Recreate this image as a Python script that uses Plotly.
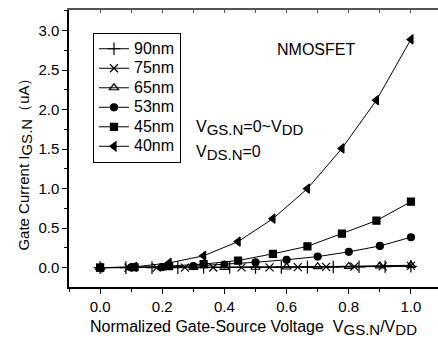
import plotly.graph_objects as go

# ---- data ----
x_90 = [0, 0.083, 0.167, 0.25, 0.333, 0.417, 0.5, 0.583, 0.667, 0.75, 0.833, 0.917, 1.0]
y_90 = [0, 0, 0, 0, 0.001, 0.002, 0.003, 0.004, 0.006, 0.008, 0.011, 0.014, 0.018]
x_75 = [0, 0.091, 0.182, 0.273, 0.364, 0.455, 0.545, 0.636, 0.727, 0.818, 0.909, 1.0]
y_75 = [0, 0, 0, 0.001, 0.002, 0.003, 0.004, 0.006, 0.009, 0.012, 0.016, 0.022]
x_65 = [0, 0.1, 0.2, 0.3, 0.4, 0.5, 0.6, 0.7, 0.8, 0.9, 1.0]
y_65 = [0, 0, 0.001, 0.002, 0.003, 0.005, 0.008, 0.012, 0.016, 0.022, 0.03]
x_53 = [0, 0.1, 0.2, 0.3, 0.4, 0.5, 0.6, 0.7, 0.8, 0.9, 1.0]
y_53 = [0, 0.003, 0.008, 0.02, 0.04, 0.068, 0.1, 0.14, 0.2, 0.275, 0.385]
x_45 = [0, 0.111, 0.222, 0.333, 0.444, 0.556, 0.667, 0.778, 0.889, 1.0]
y_45 = [0, 0.005, 0.02, 0.045, 0.09, 0.175, 0.27, 0.43, 0.595, 0.835]
x_40 = [0, 0.111, 0.222, 0.333, 0.444, 0.556, 0.667, 0.778, 0.889, 1.0]
y_40 = [0, 0.01, 0.06, 0.15, 0.33, 0.62, 1.0, 1.51, 2.12, 2.89]

names = ["90nm", "75nm", "65nm", "53nm", "45nm", "40nm"]
xs = [x_90, x_75, x_65, x_53, x_45, x_40]
ys = [y_90, y_75, y_65, y_53, y_45, y_40]
symbols = ["cross-thin", "x-thin", "triangle-up-open", "circle", "square", "triangle-left"]
sizes = [9, 8, 8, 7, 7, 8]

x_ticks = [0.0, 0.2, 0.4, 0.6, 0.8, 1.0]
y_ticks = [0.0, 0.5, 1.0, 1.5, 2.0, 2.5, 3.0]

FONT = "Liberation Sans, Arial, sans-serif"


def sub(t, size=14):
    return "<sub><span style='font-size:%dpx'>%s</span></sub>" % (size, t)


fig = go.Figure()
for n, x, y, s, sz in zip(names, xs, ys, symbols, sizes):
    fig.add_trace(go.Scatter(
        x=x, y=y, name="<span style='font-size:16px'>%s</span>" % n,
        mode="lines+markers",
        line=dict(color="black", width=1),
        marker=dict(symbol=s, size=sz, color="black",
                    line=dict(color="black", width=1.2)),
    ))

# dummy trace for top-axis inward ticks
fig.add_trace(go.Scatter(x=[None], y=[None], xaxis="x2", showlegend=False))

fig.update_layout(
    width=438, height=340,
    margin=dict(l=69, r=0, t=10, b=53),
    paper_bgcolor="white", plot_bgcolor="white",
    font=dict(family=FONT, size=15, color="black"),
    showlegend=True,
    legend=dict(
        x=0.065, y=0.917, xanchor="left", yanchor="top",
        bordercolor="black", borderwidth=1, bgcolor="white",
        font=dict(size=12.7, family=FONT), tracegroupgap=0,
        itemwidth=30,
    ),
    xaxis=dict(
        range=[-0.1, 1.087], tickvals=x_ticks, tickformat=".1f",
        showline=True, linecolor="black", linewidth=1.5,
        ticks="outside", ticklen=5, tickcolor="black", tickwidth=1,
        minor=dict(dtick=0.1, ticks="outside", ticklen=3, tickcolor="black"),
        showgrid=False, zeroline=False,
        tickfont=dict(size=15),
        title=dict(text="Normalized Gate-Source Voltage  V" + sub("GS.N", 15) + "/V" + sub("DD", 15),
                   font=dict(size=16), standoff=7),
    ),
    xaxis2=dict(
        range=[-0.1, 1.087], overlaying="x", side="top",
        tickvals=[0.0, 0.1, 0.2, 0.3, 0.4, 0.5, 0.6, 0.7, 0.8, 0.9, 1.0],
        showticklabels=False, ticks="inside", ticklen=3, tickcolor="#555",
        showline=True, linecolor="#555", linewidth=1.5,
        showgrid=False, zeroline=False,
    ),
    yaxis=dict(
        range=[-0.245, 3.262], tickvals=y_ticks, tickformat=".1f",
        showline=True, linecolor="black", linewidth=1.5,
        ticks="outside", ticklen=5, tickcolor="black", tickwidth=1,
        minor=dict(dtick=0.25, ticks="outside", ticklen=3, tickcolor="black"),
        showgrid=False, zeroline=False,
        tickfont=dict(size=15),
    ),
    annotations=[
        dict(x=-0.118, y=0.458, xref="paper", yref="paper",
             text="Gate Current I" + sub("GS.N", 15) + "（uA）",
             textangle=-90, showarrow=False, font=dict(size=15),
             xanchor="center", yanchor="middle"),
        dict(x=0.669, y=0.859, xref="paper", yref="paper", text="NMOSFET",
             showarrow=False, font=dict(size=16), xanchor="center", yanchor="middle"),
        dict(x=0.339, y=0.575, xref="paper", yref="paper",
             text="V" + sub("GS.N", 15) + "=0~V" + sub("DD", 15),
             showarrow=False, font=dict(size=16), xanchor="left", yanchor="middle"),
        dict(x=0.339, y=0.485, xref="paper", yref="paper",
             text="V" + sub("DS.N", 15) + "=0",
             showarrow=False, font=dict(size=16), xanchor="left", yanchor="middle"),
    ],
)

fig.write_html("out.html", config={"displayModeBar": False},
               post_script="document.body.style.margin='0';")
